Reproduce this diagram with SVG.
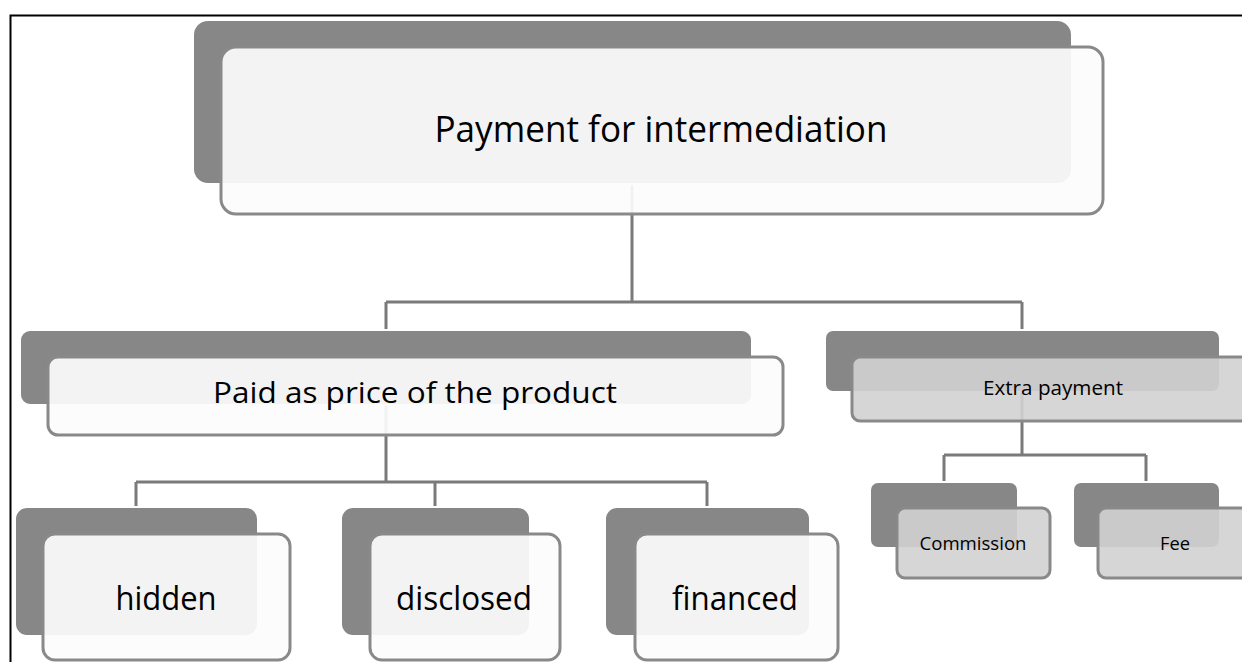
<svg xmlns="http://www.w3.org/2000/svg" width="1242" height="662" viewBox="0 0 1242 662">
<style>
.bg{fill:#ffffff}
.frame{fill:none;stroke:#000000;stroke-width:2}
.conn{fill:none;stroke:#7a7a7a;stroke-width:3}
.dark{fill:#878787;stroke:#ffffff;stroke-width:2}
.light{fill:#fcfcfc;fill-opacity:0.92;stroke:#898989;stroke-width:3}
.lightg{fill:#d2d2d2;fill-opacity:0.9;stroke:#898989;stroke-width:3}
.t{font-family:"Open Sans","Liberation Sans",sans-serif;fill:#000000;text-anchor:middle}
</style>
<rect class="bg" x="0" y="0" width="1242" height="662"/>
<rect class="frame" x="10.5" y="15.5" width="1260" height="700"/>
<g id="connectors">
<path class="conn" d="M632 184 V302 M386 302 H1022 M386 302 V330 M1022 302 V330"/>
<path class="conn" d="M386 405 V482 M136 482 H707 M136 482 V507 M435 482 V507 M707 482 V507"/>
<path class="conn" d="M1022 392 V455 M944 455 H1146 M944 455 V482 M1146 455 V482"/>
</g>
<g id="node-payment">
<rect class="dark" x="193" y="20" width="879" height="164" rx="15"/>
<rect class="light" x="221" y="47" width="882" height="167" rx="15"/>
<text class="t" x="661" y="142" font-size="36" textLength="453" lengthAdjust="spacingAndGlyphs">Payment for intermediation</text>
</g>
<g id="node-paid">
<rect class="dark" x="20" y="330" width="732" height="75" rx="10"/>
<rect class="light" x="48" y="357" width="735" height="78" rx="10"/>
<text class="t" x="415" y="403" font-size="30" textLength="404" lengthAdjust="spacingAndGlyphs">Paid as price of the product</text>
</g>
<g id="node-extra">
<rect class="dark" x="825" y="330" width="395" height="62" rx="8"/>
<rect class="lightg" x="852" y="357" width="420" height="64" rx="8"/>
<text class="t" x="1053" y="395" font-size="20" textLength="140" lengthAdjust="spacingAndGlyphs">Extra payment</text>
</g>
<g id="node-hidden">
<rect class="dark" x="15" y="507" width="243" height="129" rx="12"/>
<rect class="light" x="43" y="534" width="247" height="126" rx="12"/>
<text class="t" x="166" y="610" font-size="32" textLength="101" lengthAdjust="spacingAndGlyphs">hidden</text>
</g>
<g id="node-disclosed">
<rect class="dark" x="341" y="507" width="189" height="129" rx="12"/>
<rect class="light" x="370" y="534" width="190" height="126" rx="12"/>
<text class="t" x="464" y="610" font-size="32" textLength="136" lengthAdjust="spacingAndGlyphs">disclosed</text>
</g>
<g id="node-financed">
<rect class="dark" x="605" y="507" width="205" height="129" rx="12"/>
<rect class="light" x="635" y="534" width="203" height="126" rx="12"/>
<text class="t" x="735" y="610" font-size="32" textLength="126" lengthAdjust="spacingAndGlyphs">financed</text>
</g>
<g id="node-commission">
<rect class="dark" x="870" y="482" width="148" height="66" rx="8"/>
<rect class="lightg" x="897" y="508" width="153" height="70" rx="8"/>
<text class="t" x="973" y="550" font-size="18" textLength="107" lengthAdjust="spacingAndGlyphs">Commission</text>
</g>
<g id="node-fee">
<rect class="dark" x="1073" y="482" width="147" height="66" rx="8"/>
<rect class="lightg" x="1098" y="508" width="160" height="70" rx="8"/>
<text class="t" x="1175" y="550" font-size="18" textLength="30" lengthAdjust="spacingAndGlyphs">Fee</text>
</g>
</svg>
